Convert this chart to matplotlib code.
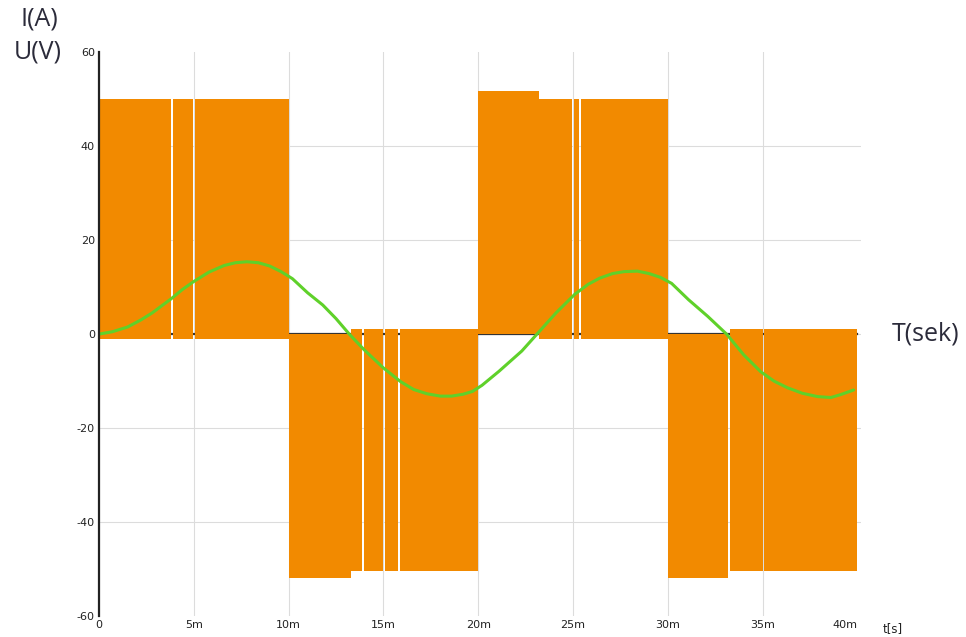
import matplotlib
matplotlib.use("Agg")
import matplotlib.pyplot as plt

plt.rcParams["axes.unicode_minus"] = False

# voltage blocks (ms, V)
seg_t0 = [0, 10, 13.3, 20, 23.2, 30, 33.15]
seg_t1 = [10, 13.3, 20, 23.2, 30, 33.15, 40]
seg_top = [50, 0, 1, 51.7, 50, 0, 1]
seg_bot = [-1, -52, -50.4, 0, -1, -52, -50.4]
gaps = [3.85, 5.0, 13.9, 15.05, 15.8, 25.0, 25.35, 33.25, 35.05]
gap_w = 0.1

# current (ms, A)
cur_t = [0.0, 0.7, 1.5, 2.2, 2.8, 3.8, 4.4, 5.0, 5.8, 6.6, 7.2, 7.8, 8.4, 9.0, 9.6,
         10.2, 11.0, 11.8, 12.5, 13.2, 14.0, 15.0, 15.9, 16.6, 17.3, 18.0, 18.6, 19.2,
         19.7, 20.2, 21.1, 22.3, 23.1, 24.1, 25.1, 25.8, 26.4, 27.1, 27.7, 28.4, 29.0,
         29.6, 30.2, 31.1, 32.1, 33.1, 34.0, 34.9, 35.6, 36.3, 37.1, 37.9, 38.6, 39.1, 39.8]
cur_i = [0.0, 0.5, 1.5, 3.0, 4.5, 7.5, 9.5, 11.2, 13.2, 14.6, 15.2, 15.4, 15.2, 14.5, 13.3,
         11.8, 8.8, 6.2, 3.3, 0.0, -3.4, -7.2, -10.1, -11.8, -12.7, -13.2, -13.2, -12.8,
         -12.2, -10.9, -7.9, -3.6, 0.0, 4.5, 8.5, 10.6, 11.9, 12.9, 13.3, 13.4, 12.9,
         12.1, 10.8, 7.3, 3.8, 0.0, -4.4, -8.0, -10.0, -11.4, -12.6, -13.3, -13.5, -12.9, -11.9]

xticks = [0, 5, 10, 15, 20, 25, 30, 35, 40]
xlabels = ["0", "5m", "10m", "15m", "20m", "25m", "30m", "35m", "40m"]
yticks = [-60, -40, -20, 0, 20, 40, 60]

orange = "#f28a00"
green = "#5fd12a"

fig = plt.figure(figsize=(9.66, 6.37), dpi=100)
ax = fig.add_axes([0.1025, 0.033, 0.789, 0.885])

# zero line under the blocks
ax.plot([0, 40], [0, 0], color="#333333", lw=1.6, zorder=1)

for t0, t1, top, bot in zip(seg_t0, seg_t1, seg_top, seg_bot):
    edges = [t0]
    for g in gaps:
        if t0 < g < t1:
            edges += [g - gap_w / 2, g + gap_w / 2]
    edges.append(t1)
    for a, b in zip(edges[::2], edges[1::2]):
        ax.bar(a, top - bot, width=b - a, bottom=bot, align="edge",
               color=orange, linewidth=0, zorder=2)

ax.plot(cur_t, cur_i, color=green, lw=2.2, zorder=4, solid_capstyle="round")

ax.set_xlim(0, 40.2)
ax.set_ylim(-60, 60)
ax.set_xticks(xticks)
ax.set_xticklabels(xlabels)
ax.set_yticks(yticks)
ax.tick_params(length=0, labelsize=8, labelcolor="#222222", pad=3)
ax.get_xticklabels()[-1].set_ha("right")
ax.grid(True, color="#dcdcdc", lw=0.8, zorder=0)
ax.set_axisbelow(True)
# no horizontal grid at the outer limits, none at the last time tick
for gl in ax.get_ygridlines()[::6]:
    gl.set_visible(False)
ax.get_xgridlines()[-1].set_visible(False)
for s in ["top", "right", "bottom"]:
    ax.spines[s].set_visible(False)
ax.spines["left"].set_linewidth(1.6)
ax.spines["left"].set_color("#222222")
ax.spines["left"].set_zorder(5)

fig.text(0.041, 0.970, "I(A)", fontsize=18, color="#2b2b3a", ha="center", va="center",
         family="Open Sans")
fig.text(0.039, 0.918, "U(V)", fontsize=18, color="#2b2b3a", ha="center", va="center",
         family="Open Sans")
fig.text(0.958, 0.476, "T(sek)", fontsize=18, color="#2b2b3a", ha="center", va="center",
         family="Open Sans")
fig.text(0.924, 0.014, "t[s]", fontsize=8.5, color="#222222", ha="center", va="center")

fig.savefig("out.png", dpi=100)
